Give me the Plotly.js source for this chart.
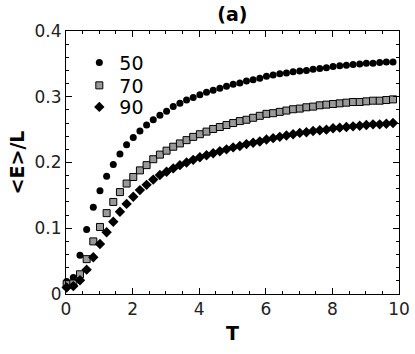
<!DOCTYPE html>
<html>
<head>
<meta charset="utf-8">
<script src="https://cdn.plot.ly/plotly-3.0.1.min.js"></script>
<style>
  html, body { margin: 0; padding: 0; background: #fff; }
  #chart { width: 415px; height: 354px; }
</style>
</head>
<body>
<div id="chart"></div>
<script>
// temperature points (same for every system size)
var T = [0.02, 0.22, 0.42, 0.62, 0.82, 1.02, 1.22, 1.42, 1.62, 1.82,
         2.02, 2.22, 2.42, 2.62, 2.82, 3.02, 3.22, 3.42, 3.62, 3.82,
         4.02, 4.22, 4.42, 4.62, 4.82, 5.02, 5.22, 5.42, 5.62, 5.82,
         6.02, 6.22, 6.42, 6.62, 6.82, 7.02, 7.22, 7.42, 7.62, 7.82,
         8.02, 8.22, 8.42, 8.62, 8.82, 9.02, 9.22, 9.42, 9.62, 9.82];

var e50 = [0.019, 0.025, 0.059, 0.098, 0.132, 0.157, 0.179, 0.197, 0.213, 0.227,
           0.238, 0.248, 0.257, 0.265, 0.272, 0.278, 0.285, 0.290, 0.295, 0.299,
           0.303, 0.307, 0.310, 0.313, 0.316, 0.319, 0.321, 0.324, 0.326, 0.328,
           0.331, 0.333, 0.335, 0.336, 0.338, 0.339, 0.340, 0.342, 0.343, 0.344,
           0.346, 0.347, 0.348, 0.349, 0.350, 0.351, 0.351, 0.352, 0.353, 0.353];

var e70 = [0.015, 0.016, 0.030, 0.053, 0.080, 0.102, 0.123, 0.140, 0.155, 0.168,
           0.178, 0.188, 0.196, 0.205, 0.212, 0.218, 0.224, 0.229, 0.234, 0.239,
           0.243, 0.247, 0.251, 0.254, 0.257, 0.260, 0.263, 0.265, 0.268, 0.271,
           0.274, 0.275, 0.277, 0.279, 0.281, 0.282, 0.284, 0.285, 0.287, 0.288,
           0.289, 0.290, 0.291, 0.292, 0.292, 0.293, 0.294, 0.294, 0.295, 0.296];

var e90 = [0.010, 0.012, 0.021, 0.037, 0.056, 0.076, 0.094, 0.110, 0.125, 0.137,
           0.148, 0.158, 0.166, 0.174, 0.181, 0.186, 0.191, 0.196, 0.200, 0.204,
           0.208, 0.211, 0.214, 0.217, 0.220, 0.223, 0.225, 0.228, 0.230, 0.232,
           0.235, 0.237, 0.239, 0.241, 0.243, 0.245, 0.246, 0.248, 0.249, 0.250,
           0.252, 0.253, 0.254, 0.255, 0.256, 0.257, 0.258, 0.258, 0.259, 0.260];

var names = ['50', '70', '90'];

var FONT = 'DejaVu Sans, sans-serif';

var trace1 = {
  x: T, y: e50, name: names[0], legend: 'legend',
  type: 'scatter', mode: 'markers', cliponaxis: false,
  marker: {symbol: 'circle', size: 7, color: '#000'}
};

var trace2 = {
  x: T, y: e70, name: names[1], legend: 'legend2',
  type: 'scatter', mode: 'markers', cliponaxis: false,
  marker: {symbol: 'square', size: 7, color: '#999999', line: {color: '#000', width: 1}}
};

var trace3 = {
  x: T, y: e90, name: names[2], legend: 'legend3',
  type: 'scatter', mode: 'markers', cliponaxis: false,
  marker: {symbol: 'diamond', size: 8, color: '#000'}
};

var axisStyle = {
  showline: true, linecolor: '#000', linewidth: 1, mirror: 'allticks',
  ticks: 'inside', ticklen: 6, tickcolor: '#000', tickwidth: 1,
  showgrid: false, zeroline: false,
  tickfont: {family: FONT, size: 17, color: '#222'}
};

// one legend per series so the rows sit as close as in the original
function legendAt(y) {
  return {
    x: 0.04, y: y, xanchor: 'left', yanchor: 'top',
    bgcolor: 'rgba(0,0,0,0)', borderwidth: 0,
    font: {family: FONT, size: 19, color: '#000'},
    itemwidth: 30
  };
}

var layout = {
  width: 415, height: 354,
  margin: {l: 66, r: 16, t: 31, b: 60},
  paper_bgcolor: '#fff', plot_bgcolor: '#fff',
  font: {family: FONT, color: '#000'},
  showlegend: true,
  title: {text: '<b>(a)</b>', font: {family: FONT, size: 19, color: '#000'},
          x: 0.56, xanchor: 'center', y: 0.96, yanchor: 'middle'},
  xaxis: Object.assign({}, axisStyle, {
    range: [0, 10], tick0: 0, dtick: 2,
    minor: {dtick: 0.5, ticks: 'inside', ticklen: 3, tickcolor: '#000'},
    title: {text: '<b>T</b>', font: {family: FONT, size: 19}, standoff: 8}
  }),
  yaxis: Object.assign({}, axisStyle, {
    range: [0, 0.4], tick0: 0, dtick: 0.1,
    minor: {dtick: 0.02, ticks: 'inside', ticklen: 3, tickcolor: '#000'},
    title: {text: '<b>&lt;E&gt;/L</b>', font: {family: FONT, size: 19}, standoff: 4}
  }),
  legend: legendAt(0.952),
  legend2: legendAt(0.865),
  legend3: legendAt(0.783)
};

Plotly.newPlot('chart', [trace1, trace2, trace3], layout, {staticPlot: true});
</script>
</body>
</html>
